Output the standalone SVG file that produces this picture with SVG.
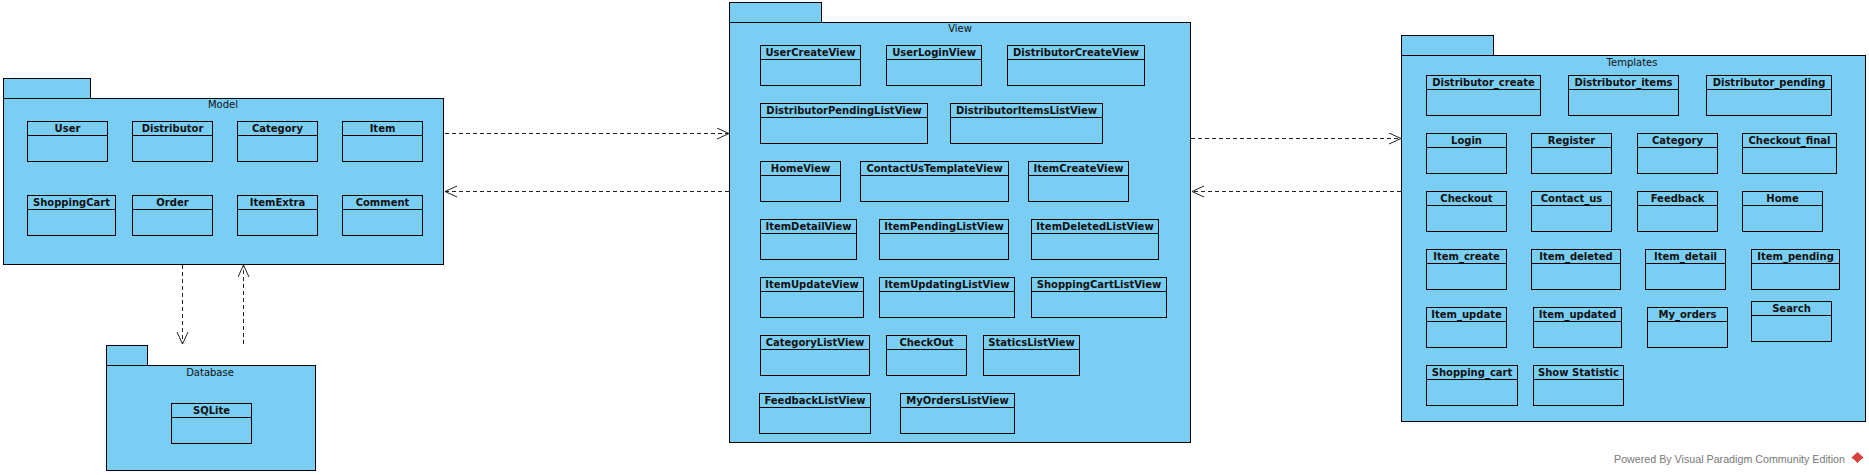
<svg xmlns="http://www.w3.org/2000/svg" width="1869" height="475" viewBox="0 0 1869 475">
<style>
.pkg{fill:#7acef4;stroke:#000;stroke-width:1}
.cls rect{fill:#7acef4;stroke:#000;stroke-width:1}
.cls line{stroke:#000;stroke-width:1}
.cls text{font-family:"DejaVu Sans",sans-serif;font-weight:bold;font-size:10px;fill:#111;text-anchor:middle}
.ptitle{font-family:"DejaVu Sans",sans-serif;font-size:10px;fill:#111;text-anchor:middle}
.dep{stroke:#222;stroke-width:1;stroke-dasharray:4,3;fill:none}
</style>
<defs>
<marker id="open" markerUnits="userSpaceOnUse" markerWidth="14" markerHeight="14" refX="12" refY="6" orient="auto">
<path d="M0,0.5 L12,6 L0,11.5" fill="none" stroke="#222" stroke-width="1"/>
</marker>
</defs>
<rect width="1869" height="475" fill="#fff"/>

<!-- Model package -->
<g id="model">
<rect class="pkg" x="3.5" y="78.5" width="87" height="20"/>
<rect class="pkg" x="3.5" y="98.5" width="440" height="166"/>
<text class="ptitle" x="223" y="108">Model</text>
<g class="cls" id="m-user"><rect x="27.5" y="121.5" width="80" height="40"/><line x1="27.5" y1="135.5" x2="107.5" y2="135.5"/><text x="67.5" y="132">User</text></g>
<g class="cls" id="m-distributor"><rect x="132.5" y="121.5" width="80" height="40"/><line x1="132.5" y1="135.5" x2="212.5" y2="135.5"/><text x="172.5" y="132">Distributor</text></g>
<g class="cls" id="m-category"><rect x="237.5" y="121.5" width="80" height="40"/><line x1="237.5" y1="135.5" x2="317.5" y2="135.5"/><text x="277.5" y="132">Category</text></g>
<g class="cls" id="m-item"><rect x="342.5" y="121.5" width="80" height="40"/><line x1="342.5" y1="135.5" x2="422.5" y2="135.5"/><text x="382.5" y="132">Item</text></g>
<g class="cls" id="m-shoppingcart"><rect x="27.5" y="195.5" width="88" height="40"/><line x1="27.5" y1="209.5" x2="115.5" y2="209.5"/><text x="71.5" y="206">ShoppingCart</text></g>
<g class="cls" id="m-order"><rect x="132.5" y="195.5" width="80" height="40"/><line x1="132.5" y1="209.5" x2="212.5" y2="209.5"/><text x="172.5" y="206">Order</text></g>
<g class="cls" id="m-itemextra"><rect x="237.5" y="195.5" width="80" height="40"/><line x1="237.5" y1="209.5" x2="317.5" y2="209.5"/><text x="277.5" y="206">ItemExtra</text></g>
<g class="cls" id="m-comment"><rect x="342.5" y="195.5" width="80" height="40"/><line x1="342.5" y1="209.5" x2="422.5" y2="209.5"/><text x="382.5" y="206">Comment</text></g>
</g>

<!-- Database package -->
<g id="database">
<rect class="pkg" x="106.5" y="345.5" width="41" height="20"/>
<rect class="pkg" x="106.5" y="365.5" width="209" height="105"/>
<text class="ptitle" x="210" y="376">Database</text>
<g class="cls" id="d-sqlite"><rect x="171.5" y="403.5" width="80" height="40"/><line x1="171.5" y1="417.5" x2="251.5" y2="417.5"/><text x="211.5" y="414">SQLite</text></g>
</g>

<!-- View package -->
<g id="view">
<rect class="pkg" x="729.5" y="2.5" width="92" height="20"/>
<rect class="pkg" x="729.5" y="22.5" width="461" height="420"/>
<text class="ptitle" x="960" y="32">View</text>
<g class="cls" id="v-usercreate"><rect x="760.5" y="45.5" width="100" height="40"/><line x1="760.5" y1="59.5" x2="860.5" y2="59.5"/><text x="810.5" y="56">UserCreateView</text></g>
<g class="cls" id="v-userlogin"><rect x="886.5" y="45.5" width="95" height="40"/><line x1="886.5" y1="59.5" x2="981.5" y2="59.5"/><text x="934" y="56">UserLoginView</text></g>
<g class="cls" id="v-distcreate"><rect x="1007.5" y="45.5" width="137" height="40"/><line x1="1007.5" y1="59.5" x2="1144.5" y2="59.5"/><text x="1076" y="56">DistributorCreateView</text></g>
<g class="cls" id="v-distpending"><rect x="760.5" y="103.5" width="167" height="40"/><line x1="760.5" y1="117.5" x2="927.5" y2="117.5"/><text x="844" y="114">DistributorPendingListView</text></g>
<g class="cls" id="v-distitems"><rect x="950.5" y="103.5" width="152" height="40"/><line x1="950.5" y1="117.5" x2="1102.5" y2="117.5"/><text x="1026.5" y="114">DistributorItemsListView</text></g>
<g class="cls" id="v-home"><rect x="760.5" y="161.5" width="80" height="40"/><line x1="760.5" y1="175.5" x2="840.5" y2="175.5"/><text x="800.5" y="172">HomeView</text></g>
<g class="cls" id="v-contactus"><rect x="860.5" y="161.5" width="148" height="40"/><line x1="860.5" y1="175.5" x2="1008.5" y2="175.5"/><text x="934.5" y="172">ContactUsTemplateView</text></g>
<g class="cls" id="v-itemcreate"><rect x="1028.5" y="161.5" width="100" height="40"/><line x1="1028.5" y1="175.5" x2="1128.5" y2="175.5"/><text x="1078.5" y="172">ItemCreateView</text></g>
<g class="cls" id="v-itemdetail"><rect x="760.5" y="219.5" width="96" height="40"/><line x1="760.5" y1="233.5" x2="856.5" y2="233.5"/><text x="808.5" y="230">ItemDetailView</text></g>
<g class="cls" id="v-itempending"><rect x="879.5" y="219.5" width="129" height="40"/><line x1="879.5" y1="233.5" x2="1008.5" y2="233.5"/><text x="944" y="230">ItemPendingListView</text></g>
<g class="cls" id="v-itemdeleted"><rect x="1031.5" y="219.5" width="127" height="40"/><line x1="1031.5" y1="233.5" x2="1158.5" y2="233.5"/><text x="1095" y="230">ItemDeletedListView</text></g>
<g class="cls" id="v-itemupdate"><rect x="760.5" y="277.5" width="103" height="40"/><line x1="760.5" y1="291.5" x2="863.5" y2="291.5"/><text x="812" y="288">ItemUpdateView</text></g>
<g class="cls" id="v-itemupdating"><rect x="879.5" y="277.5" width="135" height="40"/><line x1="879.5" y1="291.5" x2="1014.5" y2="291.5"/><text x="947" y="288">ItemUpdatingListView</text></g>
<g class="cls" id="v-shoppingcart"><rect x="1031.5" y="277.5" width="135" height="40"/><line x1="1031.5" y1="291.5" x2="1166.5" y2="291.5"/><text x="1099" y="288">ShoppingCartListView</text></g>
<g class="cls" id="v-categorylist"><rect x="760.5" y="335.5" width="109" height="40"/><line x1="760.5" y1="349.5" x2="869.5" y2="349.5"/><text x="815" y="346">CategoryListView</text></g>
<g class="cls" id="v-checkout"><rect x="886.5" y="335.5" width="80" height="40"/><line x1="886.5" y1="349.5" x2="966.5" y2="349.5"/><text x="926.5" y="346">CheckOut</text></g>
<g class="cls" id="v-statics"><rect x="983.5" y="335.5" width="96" height="40"/><line x1="983.5" y1="349.5" x2="1079.5" y2="349.5"/><text x="1031.5" y="346">StaticsListView</text></g>
<g class="cls" id="v-feedback"><rect x="759.5" y="393.5" width="111" height="40"/><line x1="759.5" y1="407.5" x2="870.5" y2="407.5"/><text x="815" y="404">FeedbackListView</text></g>
<g class="cls" id="v-myorders"><rect x="900.5" y="393.5" width="114" height="40"/><line x1="900.5" y1="407.5" x2="1014.5" y2="407.5"/><text x="957.5" y="404">MyOrdersListView</text></g>
</g>

<!-- Templates package -->
<g id="templates">
<rect class="pkg" x="1401.5" y="35.5" width="92" height="20"/>
<rect class="pkg" x="1401.5" y="55.5" width="464" height="366"/>
<text class="ptitle" x="1632" y="66">Templates</text>
<g class="cls" id="t-distcreate"><rect x="1426.5" y="75.5" width="114" height="40"/><line x1="1426.5" y1="89.5" x2="1540.5" y2="89.5"/><text x="1483.5" y="86">Distributor_create</text></g>
<g class="cls" id="t-distitems"><rect x="1568.5" y="75.5" width="110" height="40"/><line x1="1568.5" y1="89.5" x2="1678.5" y2="89.5"/><text x="1623.5" y="86">Distributor_items</text></g>
<g class="cls" id="t-distpending"><rect x="1706.5" y="75.5" width="125" height="40"/><line x1="1706.5" y1="89.5" x2="1831.5" y2="89.5"/><text x="1769" y="86">Distributor_pending</text></g>
<g class="cls" id="t-login"><rect x="1426.5" y="133.5" width="80" height="40"/><line x1="1426.5" y1="147.5" x2="1506.5" y2="147.5"/><text x="1466.5" y="144">Login</text></g>
<g class="cls" id="t-register"><rect x="1531.5" y="133.5" width="80" height="40"/><line x1="1531.5" y1="147.5" x2="1611.5" y2="147.5"/><text x="1571.5" y="144">Register</text></g>
<g class="cls" id="t-category"><rect x="1637.5" y="133.5" width="80" height="40"/><line x1="1637.5" y1="147.5" x2="1717.5" y2="147.5"/><text x="1677.5" y="144">Category</text></g>
<g class="cls" id="t-checkoutfinal"><rect x="1742.5" y="133.5" width="94" height="40"/><line x1="1742.5" y1="147.5" x2="1836.5" y2="147.5"/><text x="1789.5" y="144">Checkout_final</text></g>
<g class="cls" id="t-checkout"><rect x="1426.5" y="191.5" width="80" height="40"/><line x1="1426.5" y1="205.5" x2="1506.5" y2="205.5"/><text x="1466.5" y="202">Checkout</text></g>
<g class="cls" id="t-contactus"><rect x="1531.5" y="191.5" width="80" height="40"/><line x1="1531.5" y1="205.5" x2="1611.5" y2="205.5"/><text x="1571.5" y="202">Contact_us</text></g>
<g class="cls" id="t-feedback"><rect x="1637.5" y="191.5" width="80" height="40"/><line x1="1637.5" y1="205.5" x2="1717.5" y2="205.5"/><text x="1677.5" y="202">Feedback</text></g>
<g class="cls" id="t-home"><rect x="1742.5" y="191.5" width="80" height="40"/><line x1="1742.5" y1="205.5" x2="1822.5" y2="205.5"/><text x="1782.5" y="202">Home</text></g>
<g class="cls" id="t-itemcreate"><rect x="1426.5" y="249.5" width="80" height="40"/><line x1="1426.5" y1="263.5" x2="1506.5" y2="263.5"/><text x="1466.5" y="260">Item_create</text></g>
<g class="cls" id="t-itemdeleted"><rect x="1531.5" y="249.5" width="89" height="40"/><line x1="1531.5" y1="263.5" x2="1620.5" y2="263.5"/><text x="1576" y="260">Item_deleted</text></g>
<g class="cls" id="t-itemdetail"><rect x="1645.5" y="249.5" width="80" height="40"/><line x1="1645.5" y1="263.5" x2="1725.5" y2="263.5"/><text x="1685.5" y="260">Item_detail</text></g>
<g class="cls" id="t-itempending"><rect x="1751.5" y="249.5" width="88" height="40"/><line x1="1751.5" y1="263.5" x2="1839.5" y2="263.5"/><text x="1795.5" y="260">Item_pending</text></g>
<g class="cls" id="t-itemupdate"><rect x="1426.5" y="307.5" width="80" height="40"/><line x1="1426.5" y1="321.5" x2="1506.5" y2="321.5"/><text x="1466.5" y="318">Item_update</text></g>
<g class="cls" id="t-itemupdated"><rect x="1533.5" y="307.5" width="88" height="40"/><line x1="1533.5" y1="321.5" x2="1621.5" y2="321.5"/><text x="1577.5" y="318">Item_updated</text></g>
<g class="cls" id="t-myorders"><rect x="1647.5" y="307.5" width="80" height="40"/><line x1="1647.5" y1="321.5" x2="1727.5" y2="321.5"/><text x="1687.5" y="318">My_orders</text></g>
<g class="cls" id="t-search"><rect x="1751.5" y="301.5" width="80" height="40"/><line x1="1751.5" y1="315.5" x2="1831.5" y2="315.5"/><text x="1791.5" y="312">Search</text></g>
<g class="cls" id="t-shoppingcart"><rect x="1426.5" y="365.5" width="91" height="40"/><line x1="1426.5" y1="379.5" x2="1517.5" y2="379.5"/><text x="1472" y="376">Shopping_cart</text></g>
<g class="cls" id="t-showstatistic"><rect x="1533.5" y="365.5" width="90" height="40"/><line x1="1533.5" y1="379.5" x2="1623.5" y2="379.5"/><text x="1578.5" y="376">Show Statistic</text></g>
</g>

<!-- Connectors -->
<g id="connectors">
<line class="dep" x1="445" y1="133.5" x2="729" y2="133.5" marker-end="url(#open)"/>
<line class="dep" x1="729" y1="191.5" x2="445" y2="191.5" marker-end="url(#open)"/>
<line class="dep" x1="1191" y1="138.5" x2="1401" y2="138.5" marker-end="url(#open)"/>
<line class="dep" x1="1401" y1="191.5" x2="1192" y2="191.5" marker-end="url(#open)"/>
<line class="dep" x1="182.5" y1="265" x2="182.5" y2="344" marker-end="url(#open)"/>
<line class="dep" x1="243.5" y1="344" x2="243.5" y2="265" marker-end="url(#open)"/>
</g>

<!-- Watermark -->
<g id="watermark">
<text x="1614" y="463" font-family="Liberation Sans, sans-serif" font-size="10.5" fill="#777" textLength="231" lengthAdjust="spacingAndGlyphs">Powered By Visual Paradigm Community Edition</text>
<path d="M1857.5,452 L1863.5,457.5 L1857.5,463.5 L1851.5,457.5 Z" fill="#d9413a"/>
<path d="M1853,459 L1857.5,463.5 L1862,459" fill="none" stroke="#fff" stroke-width="1"/>
</g>
</svg>
